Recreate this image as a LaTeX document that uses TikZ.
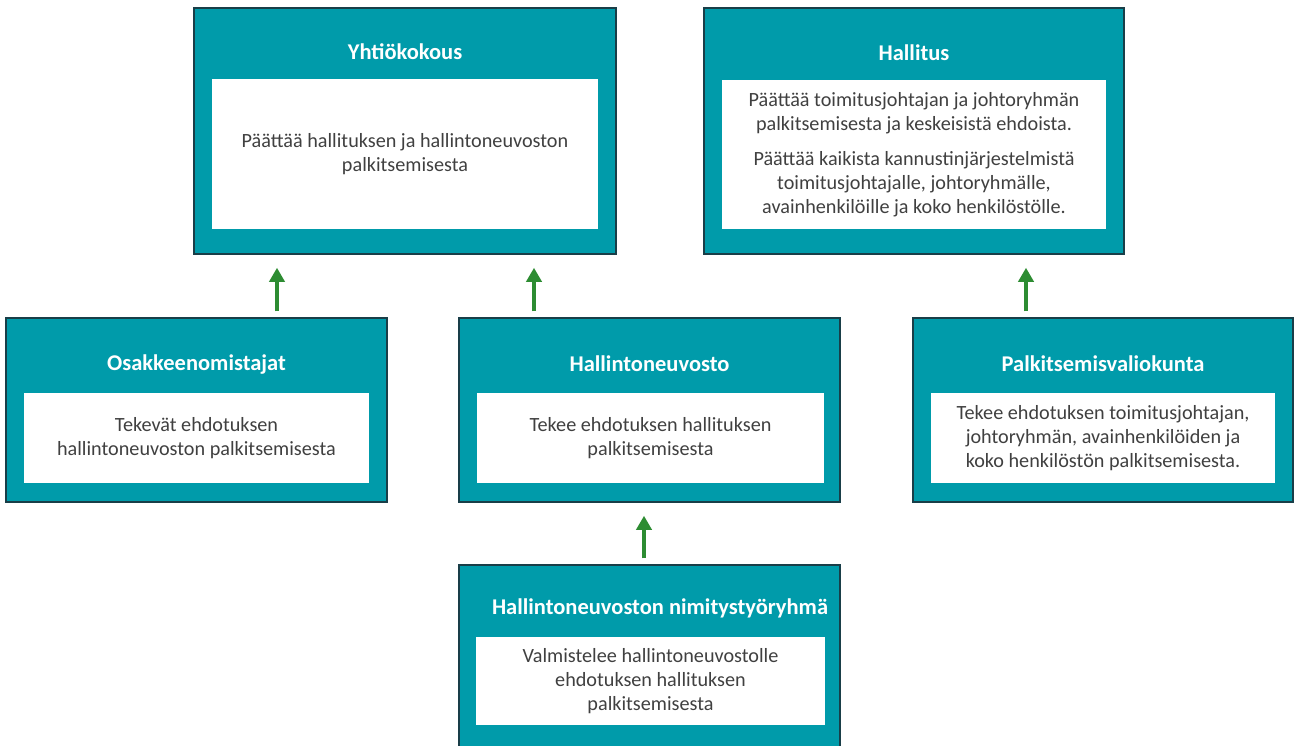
\documentclass[tikz,border=0pt]{standalone}
\usepackage{fontspec}
\setmainfont{Carlito}
\usepackage{tikz}
\usetikzlibrary{arrows.meta}
\definecolor{boxteal}{RGB}{0,155,170}
\definecolor{boxedge}{RGB}{25,62,72}
\definecolor{arrowgreen}{RGB}{45,140,50}
\definecolor{bodygray}{RGB}{64,64,64}
\tikzset{
  unit/.style  = {rectangle, draw=boxedge, line width=1.5pt, fill=boxteal,
                  inner sep=0pt},
  note/.style  = {rectangle, fill=white, inner sep=0pt, align=center,
                  text=bodygray, font=\fontsize{20.2}{24}\selectfont},
  ttl/.style   = {text=white, inner sep=0pt, font=\fontsize{22.5}{26}\selectfont\bfseries},
  flow/.style  = {-{Triangle[length=14pt,width=15pt]}, line width=4pt,
                  arrowgreen, shorten <=6pt, shorten >=13pt},
}
\begin{document}
\begin{tikzpicture}[x=1pt, y=-1pt]
        \clip (0,0) rectangle (1295,745);
        \fill[white] (0,0) rectangle (1295,745);

        % top row
        \node[unit, minimum width=422pt, minimum height=246pt] (yhtio) at (405,131) {};
        \node[note, minimum width=386pt, minimum height=150pt] (yhtio-note) at (405,154)
            {Päättää hallituksen ja hallintoneuvoston\\ palkitsemisesta};
        \node[ttl] (yhtio-ttl) at (405,52) {Yhtiökokous};

        \node[unit, minimum width=420pt, minimum height=246pt] (hallitus) at (914,131) {};
        \node[note, minimum width=384pt, minimum height=149pt] (hallitus-note) at (914,154.5)
            {Päättää toimitusjohtajan ja johtoryhmän\\ palkitsemisesta ja keskeisistä ehdoista.\\[11pt]
             Päättää kaikista kannustinjärjestelmistä\\ toimitusjohtajalle, johtoryhmälle,\\
             avainhenkilöille ja koko henkilöstölle.};
        \node[ttl] (hallitus-ttl) at (914,53) {Hallitus};

        % middle row
        \node[unit, minimum width=381pt, minimum height=184pt] (osak) at (196.5,410) {};
        \node[note, minimum width=345pt, minimum height=90pt] (osak-note) at (196.5,438)
            {Tekevät ehdotuksen\\ hallintoneuvoston palkitsemisesta};
        \node[ttl] (osak-ttl) at (196.5,364) {Osakkeenomistajat};

        \node[unit, minimum width=381pt, minimum height=184pt] (hneuvosto) at (649.5,410) {};
        \node[note, minimum width=347pt, minimum height=90pt] (hneuvosto-note) at (650.5,438)
            {Tekee ehdotuksen hallituksen\\ palkitsemisesta};
        \node[ttl] (hneuvosto-ttl) at (649.5,364) {Hallintoneuvosto};

        \node[unit, minimum width=380pt, minimum height=184pt] (palk) at (1103,410) {};
        \node[note, minimum width=344pt, minimum height=90pt] (palk-note) at (1103,438)
            {Tekee ehdotuksen toimitusjohtajan,\\ johtoryhmän, avainhenkilöiden ja\\
             koko henkilöstön palkitsemisesta.};
        \node[ttl] (palk-ttl) at (1103,364) {Palkitsemisvaliokunta};

        % bottom row
        \node[unit, minimum width=381pt, minimum height=205pt] (nimitys) at (649.5,667.5) {};
        \node[note, minimum width=349pt, minimum height=88pt] (nimitys-note) at (650.5,681)
            {Valmistelee hallintoneuvostolle\\ ehdotuksen hallituksen\\ palkitsemisesta};
        \node[ttl] (nimitys-ttl) at (660,608) {Hallintoneuvoston nimitystyöryhmä};

        % arrows
        \draw[flow] (277,0 |- osak.north) -- (277,0 |- yhtio.south);
        \draw[flow] (534,0 |- hneuvosto.north) -- (534,0 |- yhtio.south);
        \draw[flow] (1026,0 |- palk.north) -- (1026,0 |- hallitus.south);
        \draw[flow] (644,0 |- nimitys.north) -- (644,0 |- hneuvosto.south);
\end{tikzpicture}
\end{document}
